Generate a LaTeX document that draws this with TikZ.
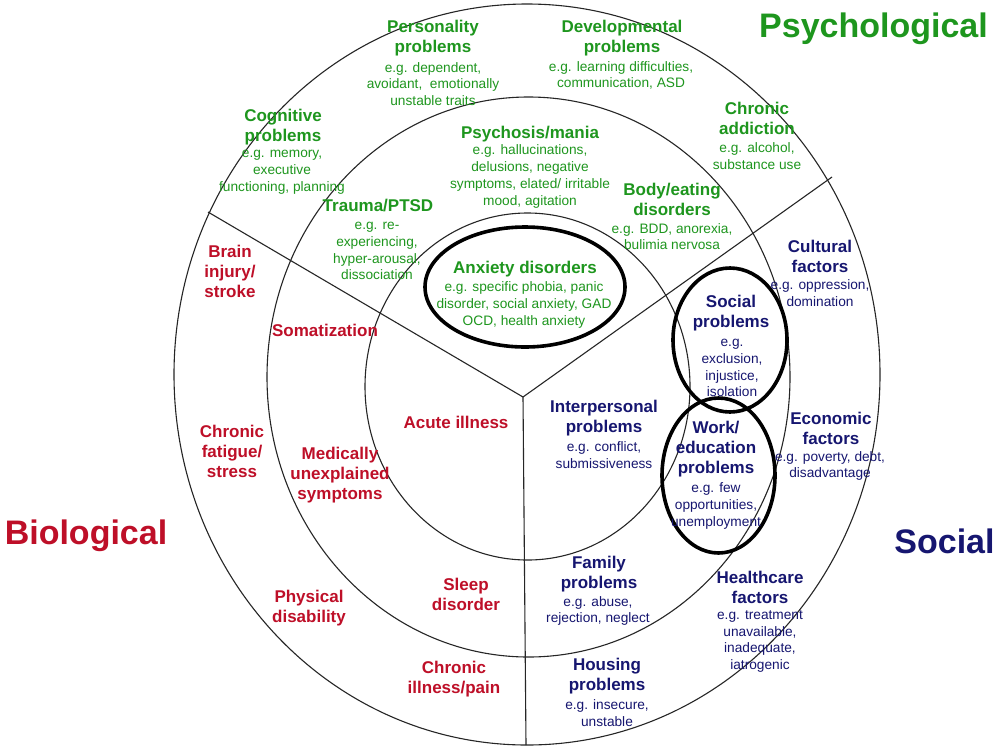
\documentclass[tikz,border=0pt]{standalone}
\usepackage{fontspec}
\setmainfont{Liberation Sans}
\definecolor{psy}{RGB}{30,150,30}
\definecolor{bio}{RGB}{190,15,40}
\definecolor{soc}{RGB}{22,22,112}
\tikzset{
  hd/.style={align=center, inner sep=0pt, font=\fontsize{17}{20}\selectfont\bfseries},
  ex/.style={align=center, inner sep=0pt, font=\fontsize{13.7}{16.8}\selectfont},
  biglabel/.style={inner sep=0pt, font=\fontsize{34}{40}\selectfont\bfseries},
  ring/.style={draw=black!85, line width=1.1pt},
  hl/.style={draw=black, line width=3.6pt},
}
\begin{document}
\begin{tikzpicture}[x=1pt,y=-1pt]
\useasboundingbox[fill=white] (0,0) rectangle (1000,750);
% rings
\draw[ring] (527.5,386.5) ellipse [x radius=162.5pt, y radius=173.5pt];
\draw[ring] (528.5,377) ellipse [x radius=261.5pt, y radius=280pt];
\draw[ring] (527,374.5) ellipse [x radius=353pt, y radius=370.5pt];
% spokes
\coordinate (hub) at (523,397);
\coordinate (spL) at (208,212);
\coordinate (spR) at (832,177);
\coordinate (spB) at (526,745);
\draw[ring] (hub) -- (spL);
\draw[ring] (hub) -- (spR);
\draw[ring] (hub) -- (spB);
% highlight ellipses
\draw[hl] (525,287) ellipse [x radius=100pt, y radius=60pt];
\draw[hl] (730,340) ellipse [x radius=57pt, y radius=72pt];
\draw[hl] (718.5,475.5) ellipse [x radius=56.5pt, y radius=77.5pt];
% big labels
\node[biglabel, text=psy] (psyL) at (873.5,28.3) {Psychological};
\node[biglabel, text=bio] (bioL) at (86,536) {Biological};
\node[biglabel, text=soc] (socL) at (944.5,541) {Social};
% psychological
\begin{scope}[text=psy]
\node[hd] (persH) at (433,38) {Personality\\problems};
\node[ex] (persE) at (433,84) {e.g. dependent,\\avoidant,\ \ emotionally\\unstable traits};
\node[hd] (devH) at (622,38) {Developmental\\problems};
\node[ex] (devE) at (621,75.5) {e.g. learning difficulties,\\communication, ASD};
\node[hd] (cogH) at (283,127) {Cognitive\\problems};
\node[ex] (cogE) at (282,172.5) {e.g. memory,\\executive\\functioning, planning};
\node[hd] (addH) at (757,118) {Chronic\\addiction};
\node[ex] (addE) at (757,156) {e.g. alcohol,\\substance use};
\node[hd] (psyH) at (530,134) {Psychosis/mania};
\node[ex] (psyE) at (530,176.5) {e.g. hallucinations,\\delusions, negative\\symptoms, elated/ irritable\\mood, agitation};
\node[hd] (bodyH) at (672,199.5) {Body/eating\\disorders};
\node[ex] (bodyE) at (672,236.5) {e.g. BDD, anorexia,\\bulimia nervosa};
\node[hd] (trauH) at (378,206) {Trauma/PTSD};
\node[ex] (trauE) at (377,251) {e.g. re-\\experiencing,\\hyper-arousal,\\dissociation};
\node[hd] (anxH) at (525,269) {Anxiety disorders};
\node[ex] (anxE) at (524,305) {e.g. specific phobia, panic\\disorder, social anxiety, GAD\\OCD, health anxiety};
\end{scope}
% biological
\begin{scope}[text=bio]
\node[hd] (brain) at (230,271) {Brain\\injury/\\stroke};
\node[hd] (somat) at (325,330) {Somatization};
\node[hd] (fatig) at (232,451) {Chronic\\fatigue/\\stress};
\node[hd] (medic) at (340,475) {Medically\\unexplained\\symptoms};
\node[hd] (acute) at (456,422) {Acute illness};
\node[hd] (phys) at (309,608) {Physical\\disability};
\node[hd] (sleep) at (466,594) {Sleep\\disorder};
\node[hd] (chill) at (454,679) {Chronic\\illness/pain};
\end{scope}
% social
\begin{scope}[text=soc]
\node[hd] (cultH) at (820,256) {Cultural\\factors};
\node[ex] (cultE) at (820,293) {e.g. oppression,\\domination};
\node[hd] (socH) at (731,313) {Social\\problems};
\node[ex] (socE) at (732,368) {e.g.\\exclusion,\\injustice,\\isolation};
\node[hd] (intH) at (604,418) {Interpersonal\\problems};
\node[ex] (intE) at (604,455) {e.g. conflict,\\submissiveness};
\node[hd] (ecoH) at (831,428) {Economic\\factors};
\node[ex] (ecoE) at (830,466) {e.g. poverty, debt,\\disadvantage};
\node[hd] (workH) at (716,449) {Work/\\education\\problems};
\node[ex] (workE) at (716,506) {e.g. few\\opportunities,\\unemployment};
\node[hd] (famH) at (599,574) {Family\\problems};
\node[ex] (famE) at (598,611) {e.g. abuse,\\rejection, neglect};
\node[hd] (hcH) at (760,587) {Healthcare\\factors};
\node[ex] (hcE) at (760,641.5) {e.g. treatment\\unavailable,\\inadequate,\\iatrogenic};
\node[hd] (houH) at (607,676) {Housing\\problems};
\node[ex] (houE) at (607,713) {e.g. insecure,\\unstable};
\end{scope}
\end{tikzpicture}
\end{document}
